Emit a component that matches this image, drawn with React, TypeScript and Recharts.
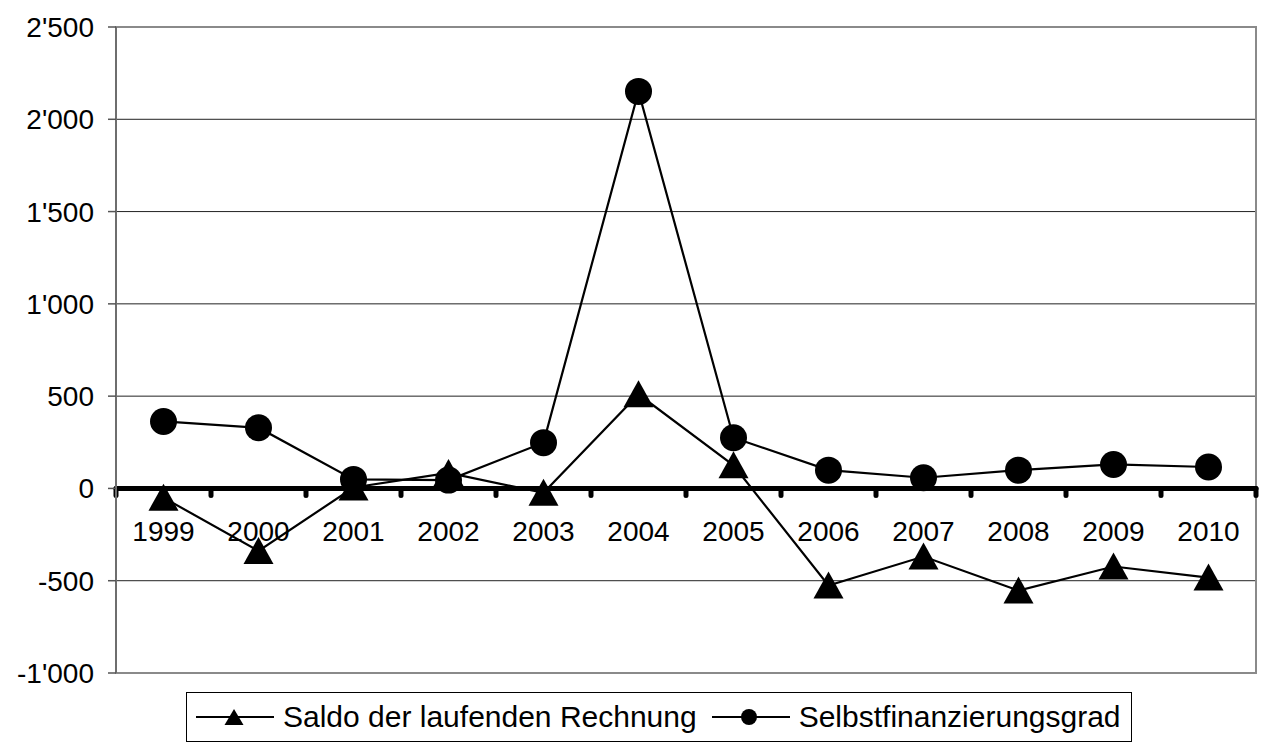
import React from 'react';
import {
  LineChart,
  Line,
  XAxis,
  YAxis,
  CartesianGrid,
  ReferenceLine,
  ReferenceDot,
  ReferenceArea,
  Legend,
} from 'recharts';

const years = ['1999', '2000', '2001', '2002', '2003', '2004', '2005', '2006', '2007', '2008', '2009', '2010'];
const saldo = [-50, -339, 5, 84, -24, 510, 125, -526, -369, -553, -423, -483];
const selbstfinanzierung = [363, 329, 49, 45, 248, 2151, 275, 99, 58, 99, 130, 116];
const yTicks = [-1000, -500, 0, 500, 1000, 1500, 2000, 2500];
const seriesNames = ['Saldo der laufenden Rechnung', 'Selbstfinanzierungsgrad'];

const data = years.map((year, i) => ({ year, saldo: saldo[i], selbst: selbstfinanzierung[i] }));

const FONT = "'Liberation Sans', Arial, Helvetica, sans-serif";
const TICK_LEN = 38;

const fmt = (v: number) => {
  const s = Math.abs(v).toString().replace(/\B(?=(\d{3})+(?!\d))/g, "'");
  return (v < 0 ? '-' : '') + s;
};

const TriangleDot = (props: any) => {
  const { cx, cy, index } = props;
  if (cx == null || cy == null) return null;
  return (
    <polygon
      key={`t-${index}`}
      points={`${cx},${cy - 14} ${cx - 15},${cy + 13} ${cx + 15},${cy + 13}`}
      fill="#000"
    />
  );
};

const CircleDot = (props: any) => {
  const { cx, cy, index } = props;
  if (cx == null || cy == null) return null;
  return <circle key={`c-${index}`} cx={cx} cy={cy} r={13.5} fill="#000" />;
};

const LegendIcon = ({ kind }: { kind: number }) => (
  <svg width={78} height={24} style={{ display: 'block' }}>
    <line x1={0} y1={12} x2={78} y2={12} stroke="#000" strokeWidth={2} />
    {kind === 0 ? (
      <polygon points="38,4 28.5,20 47.5,20" fill="#000" />
    ) : (
      <circle cx={37} cy={12} r={8} fill="#000" />
    )}
  </svg>
);

const renderLegend = () => (
  <div
    style={{
      display: 'inline-flex',
      alignItems: 'center',
      border: '1px solid #000',
      height: 50,
      padding: '0 10px 0 9px',
      boxSizing: 'border-box',
      background: '#fff',
      fontFamily: FONT,
      fontSize: 30,
      whiteSpace: 'nowrap',
      color: '#000',
    }}
  >
    {seriesNames.map((name, i) => (
      <div key={name} style={{ display: 'flex', alignItems: 'center', marginLeft: i ? 15 : 0 }}>
        <LegendIcon kind={i} />
        <span style={{ marginLeft: 9, lineHeight: 1 }}>{name}</span>
      </div>
    ))}
  </div>
);

export default function App() {
  return (
    <div style={{ position: 'absolute', left: 0, top: 0, width: 1261, height: 742, background: '#fff' }}>
      <LineChart width={1261} height={742} data={data} margin={{ top: 27, right: 5, bottom: 69, left: 0 }}>
        <CartesianGrid vertical={false} stroke="#222" strokeWidth={1} />
        <ReferenceArea y1={-1000} y2={2500} fill="none" stroke="#8a8a8a" strokeWidth={2} />
        <XAxis dataKey="year" scale="band" hide />
        <YAxis
          domain={[-1000, 2500]}
          ticks={yTicks}
          interval={0}
          width={116}
          tickFormatter={fmt}
          axisLine={{ stroke: '#6e6e6e', strokeWidth: 2 }}
          tickLine={{ stroke: '#555', strokeWidth: 1.5 }}
          tickSize={8}
          tickMargin={14}
          tick={{ fill: '#000', fontSize: 28, fontFamily: FONT }}
        />
        <ReferenceLine y={0} stroke="#000" strokeWidth={5} strokeLinecap="round" />
        {years.map((y) => (
          <ReferenceLine
            key={`tick-${y}`}
            segment={[{ x: y, y: 0 }, { x: y, y: -TICK_LEN }]}
            position="start"
            stroke="#000"
            strokeWidth={5}
            strokeLinecap="round"
          />
        ))}
        <ReferenceLine
          key="tick-end"
          segment={[{ x: years[years.length - 1], y: 0 }, { x: years[years.length - 1], y: -TICK_LEN }]}
          position="end"
          stroke="#000"
          strokeWidth={5}
          strokeLinecap="round"
        />
        {years.map((y) => (
          <ReferenceDot
            key={`lbl-${y}`}
            x={y}
            y={0}
            r={0}
            fill="none"
            stroke="none"
            label={{ value: y, position: 'bottom', offset: 33, fill: '#000', fontSize: 28, fontFamily: FONT }}
          />
        ))}
        <Line
          dataKey="saldo"
          name={seriesNames[0]}
          stroke="#000"
          strokeWidth={2.2}
          dot={<TriangleDot />}
          activeDot={false}
          isAnimationActive={false}
        />
        <Line
          dataKey="selbst"
          name={seriesNames[1]}
          stroke="#000"
          strokeWidth={2.2}
          dot={<CircleDot />}
          activeDot={false}
          isAnimationActive={false}
        />
        <Legend
          layout="vertical"
          align="center"
          verticalAlign="middle"
          content={renderLegend}
          wrapperStyle={{ left: 186, top: 692, width: 'auto', height: 'auto' }}
        />
      </LineChart>
    </div>
  );
}
